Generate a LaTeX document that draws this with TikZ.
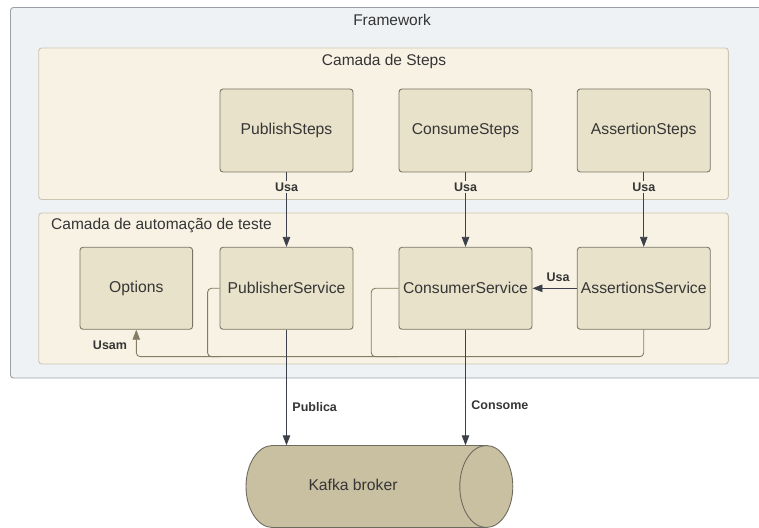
\documentclass[tikz,border=0pt]{standalone}
\usepackage{fontspec}
\setmainfont{Liberation Sans}
\usetikzlibrary{arrows.meta,calc}

\definecolor{frameFill}{HTML}{EFF2F5}
\definecolor{frameLine}{HTML}{9A9FA8}
\definecolor{layerFill}{HTML}{F7F2E4}
\definecolor{layerLine}{HTML}{CCC5B2}
\definecolor{boxFill}{HTML}{E8E2CA}
\definecolor{boxLine}{HTML}{7A7565}
\definecolor{drumFill}{HTML}{C9C0A2}
\definecolor{drumLine}{HTML}{6E6A5E}
\definecolor{ink}{HTML}{353535}
\definecolor{wire}{HTML}{3B4049}
\definecolor{usamWire}{HTML}{867C64}

\tikzset{
  layer/.style={draw=layerLine, fill=layerFill, line width=0.9pt, rounded corners=3pt,
    minimum width=689.6pt, minimum height=151pt, inner sep=0pt},
  compbox/.style={draw=boxLine, fill=boxFill, line width=0.9pt, rounded corners=3pt,
    minimum width=133pt, minimum height=82pt, inner sep=0pt, text=ink,
    font=\fontsize{15.7}{18}\selectfont},
  title/.style={text=ink, font=\fontsize{15.5}{18}\selectfont, inner sep=0pt},
  tag/.style={text=ink, font=\bfseries\fontsize{12.5}{15}\selectfont, inner sep=1.5pt},
  flow/.style={draw=wire, line width=0.9pt, -{Triangle[length=10pt,width=7.5pt]}},
  usam/.style={draw=usamWire, line width=0.9pt, rounded corners=4pt},
}

\begin{document}
\begin{tikzpicture}[x=1pt,y=1pt]
  \useasboundingbox (0,0) rectangle (759,527);
  \clip (0,0) rectangle (759,527);

  % outer framework container
  \node[draw=frameLine, fill=frameFill, line width=0.9pt, rounded corners=3pt,
        minimum width=764.5pt, minimum height=370.5pt, inner sep=0pt]
        (framework) at (392.75,334.25) {};
  \node[title] (frameworkTitle) at (392,507) {Framework};

  % layers
  \node[layer, minimum height=151.5pt] (stepsLayer) at (383.5,403.25) {};
  \node[title] (stepsTitle) at (384,466) {Camada de Steps};
  \node[layer] (autoLayer) at (383.5,238.5) {};
  \node[title, anchor=west] (autoTitle) at (51,301) {Camada de automação de teste};

  % step components
  \node[compbox, minimum height=83pt] (ps) at (286.5,396.5) {PublishSteps};
  \node[compbox, minimum height=83pt] (cs) at (465.5,396.5) {ConsumeSteps};
  \node[compbox, minimum height=83pt] (as) at (643.75,396.5) {AssertionSteps};

  % services
  \node[compbox, minimum width=112.6pt] (opt) at (136.3,238.7) {Options};
  \node[compbox] (pub) at (286.5,238.7) {PublisherService};
  \node[compbox] (con) at (465.5,238.7) {ConsumerService};
  \node[compbox] (asr) at (643.75,238.7) {AssertionsService};

  % Kafka broker drum
  \fill[drumFill] (272.5,81.5)
    arc[start angle=90, end angle=270, x radius=26.5pt, y radius=41pt]
    -- (486.3,-0.5)
    arc[start angle=-90, end angle=90, x radius=26.5pt, y radius=41pt] -- cycle;
  \draw[drumLine, line width=0.9pt] (486.3,81.5) -- (272.5,81.5)
    arc[start angle=90, end angle=270, x radius=26.5pt, y radius=41pt]
    -- (486.3,-0.5);
  \draw[drumLine, line width=0.9pt] (486.3,40.5) ellipse[x radius=26.5pt, y radius=41pt];
  \node[minimum width=266.8pt, minimum height=82pt, inner sep=0pt] (kafka) at (379.4,40.5) {};
  \node[title, font=\fontsize{15.7}{18}\selectfont] (kafkaText) at (353,42) {Kafka broker};

  % steps use services
  \draw[flow] (ps) -- node[tag, fill=layerFill, pos=0.2] {Usa} (pub);
  \draw[flow] (cs) -- node[tag, fill=layerFill, pos=0.2] {Usa} (con);
  \draw[flow] (as) -- node[tag, fill=layerFill, pos=0.2] {Usa} (asr);
  \draw[flow] (asr.west) -- node[tag, pos=0.42, yshift=11pt] {Usa} (con.east);

  % services use options
  \coordinate (bus) at (0,170.3);
  \draw[usam, -{Triangle[length=10pt,width=7.5pt]}] (asr.south) |- (opt.south |- bus) -- (opt.south);
  \draw[usam] (pub.west) -| ([xshift=-12pt]pub.west |- bus) -- (pub.west |- bus);
  \draw[usam] (con.west) -| ([xshift=-27.3pt]con.west |- bus) -- (con.west |- bus);
  \node[tag] (usamTag) at (110,181.3) {Usam};

  % broker traffic
  \draw[flow] (pub.south) -- node[tag, right=4pt, pos=0.666] {Publica} (pub.south |- kafka.north);
  \draw[flow] (con.south) -- node[tag, right=4pt, pos=0.65] {Consome} (con.south |- kafka.north);
\end{tikzpicture}
\end{document}
